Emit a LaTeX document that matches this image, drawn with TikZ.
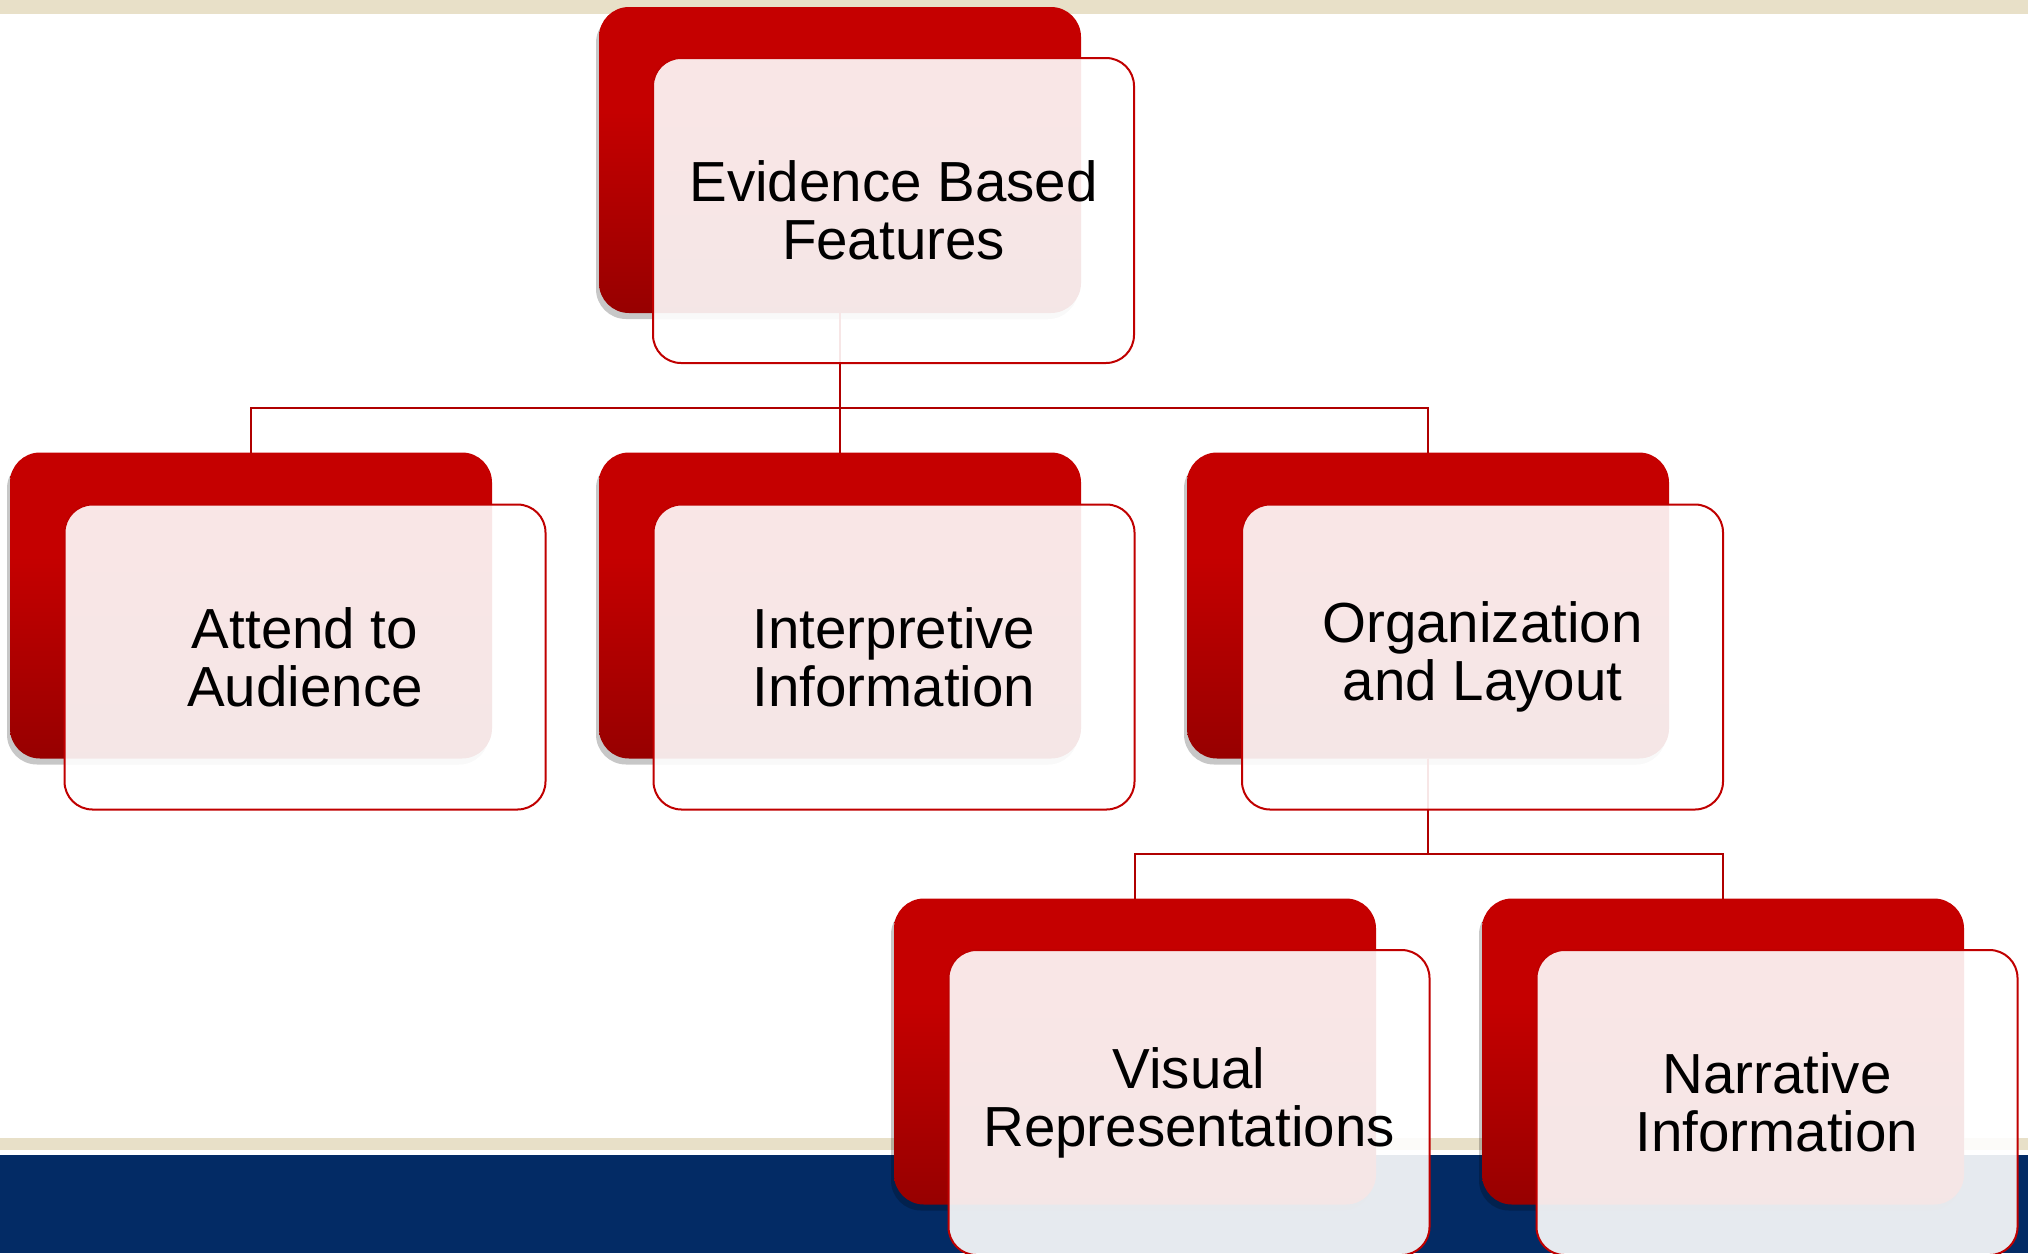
\documentclass[tikz,border=0pt]{standalone}
\usepackage{fontspec}
\setmainfont{Liberation Sans}
\usetikzlibrary{shadows}
\definecolor{beige}{HTML}{E8E0C8}
\definecolor{navy}{HTML}{032B65}
\definecolor{rtop}{HTML}{C50000}
\definecolor{rdk}{HTML}{970000}
\definecolor{rline}{HTML}{B00000}
\definecolor{rborder}{HTML}{C00000}
\pgfdeclareverticalshading{redgrad}{100bp}{color(0bp)=(rdk); color(25bp)=(rdk); color(58bp)=(rtop); color(100bp)=(rtop)}
\tikzset{
  backbox/.style={rectangle, rounded corners=30pt, minimum width=482pt, minimum height=306pt,
    inner sep=0pt, outer sep=0pt, shading=redgrad, draw=none,
    drop shadow={shadow xshift=-3pt, shadow yshift=-6pt, opacity=0.22, fill=black}},
  frontbox/.style={rectangle, rounded corners=28pt, minimum width=481pt, minimum height=305pt,
    inner sep=0pt, outer sep=0pt, fill=white, fill opacity=0.9, text opacity=1,
    draw=rborder, line width=2pt, align=center, text=black,
    font=\fontsize{56.5}{58}\selectfont},
  conn/.style={draw=rline, line width=2pt}
}
\begin{document}
\begin{tikzpicture}[x=1pt,y=-1pt]
\useasboundingbox (0,0) rectangle (2028,1253);
% background
\fill[beige] (0,0) rectangle (2028,14);
\fill[beige] (0,1138) rectangle (2028,1150);
\fill[navy] (0,1155) rectangle (2028,1253);
% back boxes
\node[backbox] (b0) at (840,160) {};
\node[backbox] (b1) at (251,605.5) {};
\node[backbox] (b2) at (840,605.5) {};
\node[backbox] (b3) at (1428,605.5) {};
\node[backbox] (b4) at (1135,1051.5) {};
\node[backbox] (b5) at (1723,1051.5) {};
% connectors
\coordinate (j0) at (840,408);
\coordinate (j1) at (1428,854);
\draw[conn] (b0.south) -- (j0);
\draw[conn] (j0) -| (b1.north);
\draw[conn] (j0) -- (b2.north);
\draw[conn] (j0) -| (b3.north);
\draw[conn] (b3.south) -- (j1);
\draw[conn] (j1) -| (b4.north);
\draw[conn] (j1) -| (b5.north);
% front boxes
\node[frontbox] (f0) at (893.5,210.5) {Evidence Based\\Features};
\node[frontbox] (f1) at (305,657) {Attend to\\Audience};
\node[frontbox] (f2) at (894,657) {Interpretive\\Information};
\node[frontbox] (f3) at (1482.5,657) {Organization\\and Layout};
\node[frontbox] (f4) at (1189,1102.5) {Visual\\Representations};
\node[frontbox] (f5) at (1777,1102.5) {Narrative\\Information};
\end{tikzpicture}
\end{document}
